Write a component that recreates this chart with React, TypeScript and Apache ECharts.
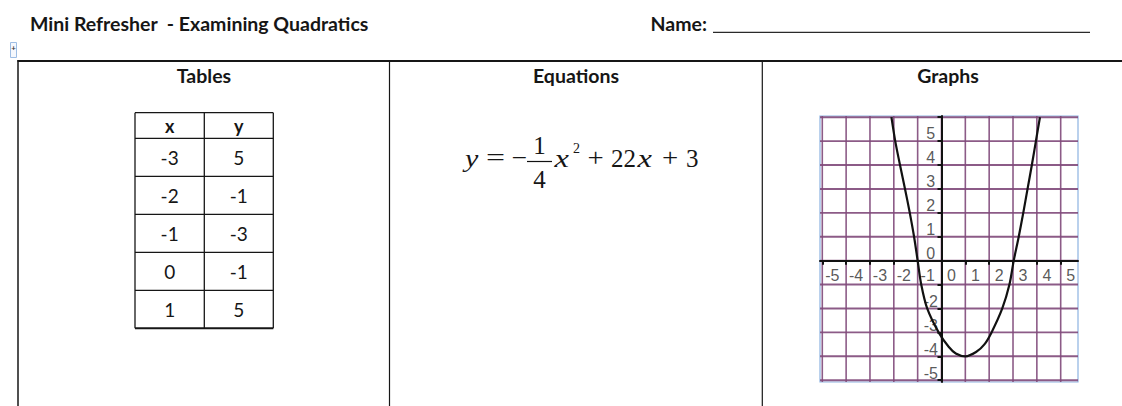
import React, { useEffect, useRef } from "react";
import * as echarts from "echarts";

// ---- Data ----
const tableX = [-3, -2, -1, 0, 1];
const tableY = [5, -1, -3, -1, 5];

// Parabola as drawn on the graph
const curveX = [-2.1, -1.94, -1.74, -1.53, -1.33, -1.15, -1.0, -0.85, -0.6, -0.12, 0.3, 0.6, 1.0, 1.45, 1.8, 2.1, 2.55, 2.85, 3.03, 3.24, 3.43, 3.61, 3.79, 3.96, 4.13];
const curveY = [6.0, 5, 4, 3, 2, 1, 0, -1, -2, -3, -3.6, -3.88, -4.0, -3.82, -3.5, -3, -2, -1, 0, 1, 2, 3, 4, 5, 6.0];

const gridXValues = [-5, -4, -3, -2, -1, 0, 1, 2, 3, 4, 5];
const gridYValues = [-5, -4, -3, -2, -1, 0, 1, 2, 3, 4, 5, 6];
const xTickLabels = [-5, -4, -3, -2, -1, 0, 1, 2, 3, 4, 5];
const yTickLabels = [-5, -4, -3, -2, 0, 1, 2, 3, 4, 5];

const titleText = "Mini Refresher  - Examining Quadratics";
const nameText = "Name:";
const columnHeads = ["Tables", "Equations", "Graphs"];

const SANS = "Lato, 'Noto Sans', sans-serif";
const SERIF = "'Liberation Serif', 'DejaVu Serif', serif";

export default function App() {
  const ref = useRef<HTMLDivElement>(null);

  useEffect(() => {
    if (!ref.current) return;
    const chart = echarts.init(ref.current, undefined, { renderer: "svg" });

    const ink = "#161616";
    const graphic: any[] = [];
    const line = (x1: number, y1: number, x2: number, y2: number, w: number, c = ink) =>
      graphic.push({ type: "line", shape: { x1, y1, x2, y2 }, style: { stroke: c, lineWidth: w } });
    const text = (t: string, x: number, y: number, font: string, align = "left", fill = ink, sx = 1) =>
      graphic.push({ type: "text", x, y, scaleX: sx, style: { text: t, font, fill, align, verticalAlign: "middle" } });

    // Header
    text(titleText, 30, 23, `bold 19.5px ${SANS}`);
    text(nameText, 650.5, 23, `bold 19.5px ${SANS}`);
    line(713, 32.3, 1090, 32.3, 1.3, "#2a2a2a");

    // small move handle
    graphic.push({ type: "rect", shape: { x: 10.5, y: 42.5, width: 6, height: 15 }, style: { stroke: "#9dbde4", fill: "#f5f8fd", lineWidth: 1 } });
    text("+", 13.5, 48, `bold 8px ${SANS}`, "center", "#333");

    // Page table frame
    line(17.5, 61, 1122, 61, 2);
    line(18, 60, 18, 406, 1.5);
    line(389.5, 61, 389.5, 406, 1.2);
    line(762.3, 61, 762.3, 406, 1.2);
    const headCenters = [204, 576, 948];
    columnHeads.forEach((h, i) => text(h, headCenters[i], 75, `bold 19.5px ${SANS}`, "center"));

    // Inner x/y table
    const tLeft = 135, tMid = 204.3, tRight = 273.3;
    const tTop = 112.7, headH = 25.6, rowH = 38.0;
    const rowsY: number[] = [tTop, tTop + headH];
    tableX.forEach((_, i) => rowsY.push(tTop + headH + rowH * (i + 1)));
    rowsY.forEach((y, i) => line(tLeft, y, tRight, y, i === rowsY.length - 1 ? 2 : 1.3));
    [tLeft, tMid, tRight].forEach((x) => line(x, tTop, x, rowsY[rowsY.length - 1], 1.3));
    const cx1 = (tLeft + tMid) / 2, cx2 = (tMid + tRight) / 2;
    text("x", cx1, tTop + headH / 2, `bold 18px ${SANS}`, "center");
    text("y", cx2, tTop + headH / 2, `bold 18px ${SANS}`, "center");
    tableX.forEach((v, i) => {
      const cy = tTop + headH + rowH * i + rowH / 2;
      text(String(v), cx1, cy, `normal 19px ${SANS}`, "center");
      text(String(tableY[i]), cx2, cy, `normal 19px ${SANS}`, "center");
    });

    // Equation  y = -1/4 x^2 + 22x + 3
    const eqY = 158;
    const f = `25px ${SERIF}`;
    const fi = `italic 25px ${SERIF}`;
    text("y", 465, eqY, fi, "left", ink, 1.2);
    text("=", 486, eqY, f, "left", ink, 1.35);
    text("\u2212", 511.5, eqY, f, "left", ink, 1.1);
    line(527, 161.5, 552, 161.5, 1.2, "#111");
    text("1", 539.5, 145.5, f, "center");
    text("4", 539.5, 179.5, f, "center");
    text("x", 554.5, eqY, fi, "left", ink, 1.3);
    text("2", 573, 148.5, `14px ${SERIF}`);
    text("+", 587.5, eqY, f, "left", ink, 1.15);
    text("22", 611, eqY, f);
    text("x", 637.5, eqY, fi, "left", ink, 1.3);
    text("+", 662, eqY, f, "left", ink, 1.15);
    text("3", 686, eqY, f);

    const purple = "#80497a";

    const option: any = {
      animation: false,
      backgroundColor: "#ffffff",
      grid: {
        left: 820, top: 116, width: 258, height: 266,
        show: true, borderColor: "#8db3e2", borderWidth: 1.2, backgroundColor: "#ffffff",
      },
      xAxis: {
        type: "value", min: -5.096, max: 5.726, z: 5,
        axisLine: { show: true, onZero: true, lineStyle: { color: "#111", width: 2 } },
        axisTick: { show: true, customValues: gridXValues, length: 4, lineStyle: { color: "#111", width: 2 } },
        axisLabel: { show: false },
        splitLine: { show: false },
      },
      yAxis: {
        type: "value", min: -5.075, max: 6.05, z: 5,
        axisLine: { show: true, onZero: true, lineStyle: { color: "#111", width: 2 } },
        axisTick: { show: true, customValues: gridYValues, length: 4, lineStyle: { color: "#111", width: 2 } },
        axisLabel: { show: false },
        splitLine: { show: false },
      },
      series: [
        {
          type: "custom",
          z: 1,
          silent: true,
          clip: true,
          data: [
            ...gridXValues.map((v) => [v, 0, 0]),
            ...gridYValues.map((v) => [0, v, 1]),
          ],
          encode: { x: 0, y: 1 },
          renderItem: (params: any, api: any) => {
            const cs = params.coordSys;
            const pt = api.coord([api.value(0), api.value(1)]);
            const vertical = api.value(2) === 0;
            return {
              type: "line",
              shape: vertical
                ? { x1: pt[0], y1: cs.y, x2: pt[0], y2: cs.y + cs.height }
                : { x1: cs.x, y1: pt[1], x2: cs.x + cs.width, y2: pt[1] },
              style: { stroke: purple, lineWidth: vertical ? 1.6 : 1.9, opacity: 0.9 },
            };
          },
        },
        {
          type: "scatter",
          z: 8,
          silent: true,
          symbolSize: 1,
          itemStyle: { color: "rgba(0,0,0,0)" },
          data: [
            ...xTickLabels.map((v) => [v + 0.42, -0.6, v]),
            ...yTickLabels.map((v) => [-0.45, v + 0.3, v]),
          ],
          label: {
            show: true,
            position: "inside",
            formatter: (p: any) => String(p.value[2]),
            color: "#2e2e2e",
            fontSize: 16,
            fontFamily: "'Liberation Sans', Arial, sans-serif",
          },
        },
        {
          type: "line",
          z: 10,
          silent: true,
          smooth: 0.3,
          symbol: "none",
          clip: true,
          lineStyle: { color: "#111", width: 2.2 },
          data: curveX.map((x, i) => [x, curveY[i]]),
        },
      ],
      graphic,
    };

    chart.setOption(option);
    return () => chart.dispose();
  }, []);

  return (
    <div
      ref={ref}
      style={{ position: "absolute", left: 0, top: 0, width: 1122, height: 406, background: "#fff" }}
    />
  );
}
